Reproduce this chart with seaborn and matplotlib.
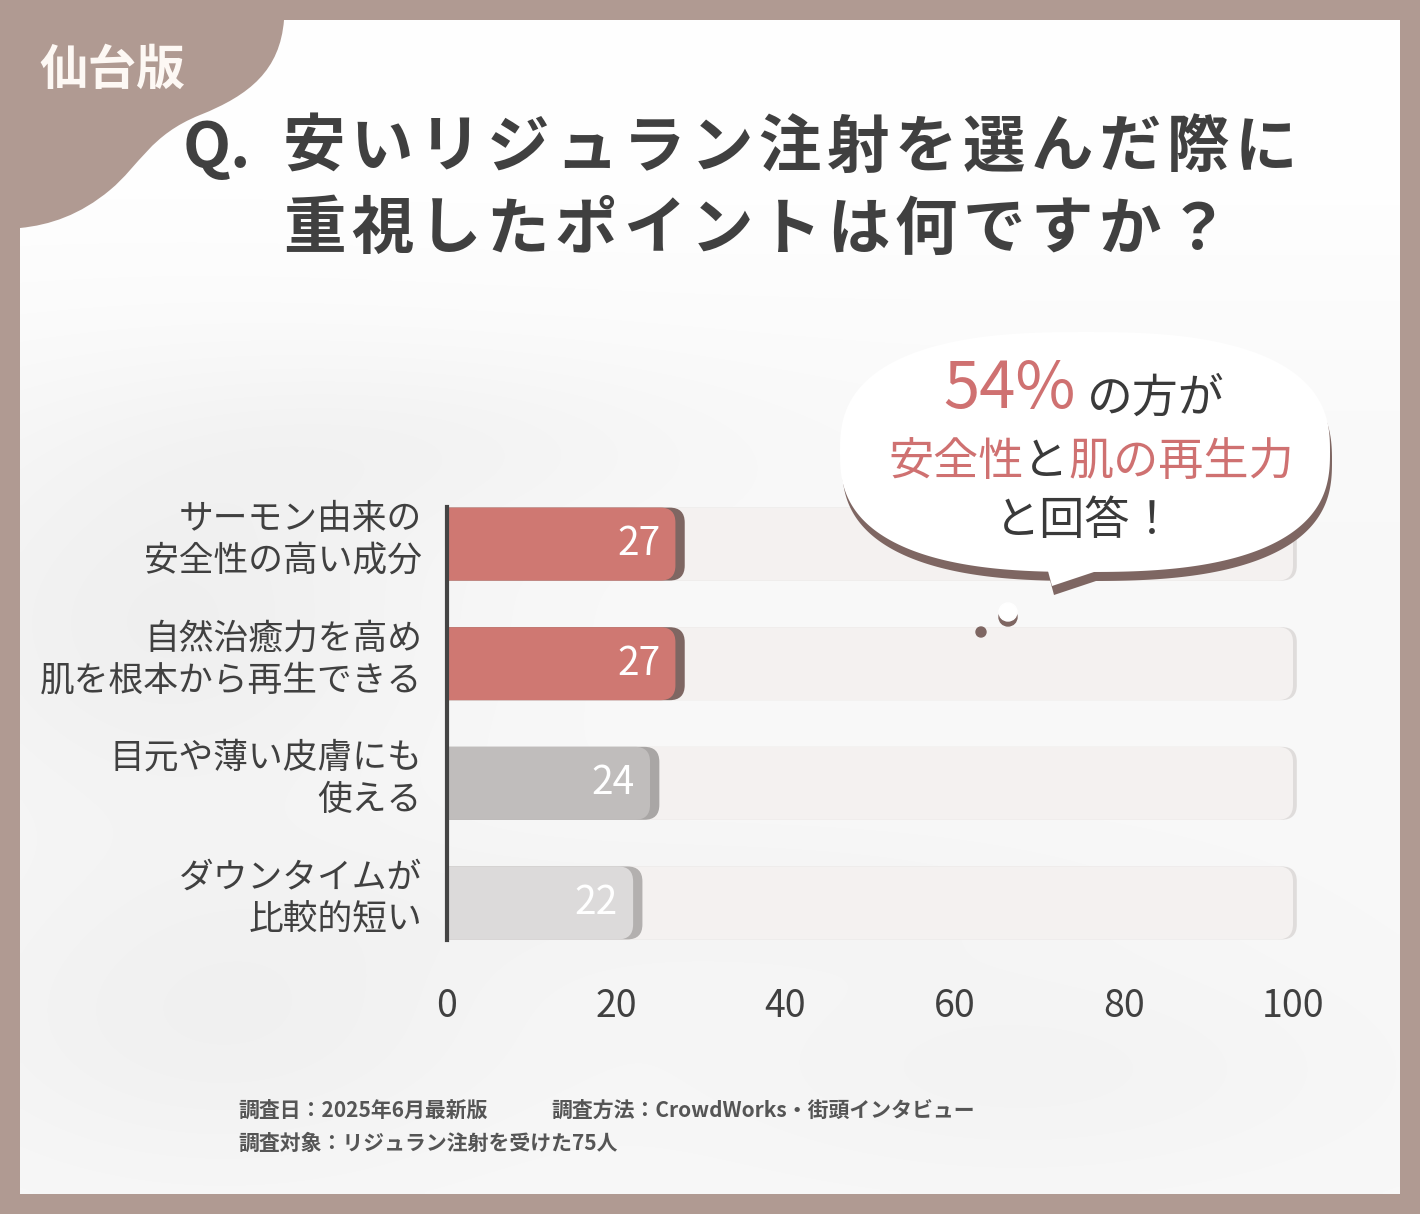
import numpy as np
import pandas as pd
import matplotlib
matplotlib.use("Agg")
import matplotlib.pyplot as plt
import matplotlib.transforms as mtransforms
import seaborn as sns
from matplotlib.patches import FancyBboxPatch, PathPatch, Circle
from matplotlib.path import Path

# Data
labels = ["サーモン由来の\n安全性の高い成分",
          "自然治癒力を高め\n肌を根本から再生できる",
          "目元や薄い皮膚にも\n使える",
          "ダウンタイムが\n比較的短い"]
values = [27, 27, 24, 22]
track_max = [100, 100, 100, 100]
bar_colors = ["#cf7872", "#cf7872", "#c0bdbc", "#dcdada"]
shadow_colors = ["#7e6662", "#7e6662", "#a9a6a5", "#b3b0af"]
x_ticks = [0, 20, 40, 60, 80, 100]

title_q = "Q."
title_lines = ["安いリジュラン注射を選んだ際に", "重視したポイントは何ですか？"]
tab_text = "仙台版"
footer_1a = "調査日：2025年6月最新版"
footer_1b = "調査方法：CrowdWorks・街頭インタビュー"
footer_2 = "調査対象：リジュラン注射を受けた75人"

df = pd.DataFrame({"label": labels, "value": values, "track": track_max})

sns.set_theme(style="white")
plt.rcParams["font.family"] = ["Noto Sans CJK JP", "DejaVu Sans"]

W, H = 1420, 1214
fig = plt.figure(figsize=(W / 100, H / 100), dpi=100)
fig.patch.set_facecolor("#b09a92")

# background / decoration layer in pixel coords (y down)
bg = fig.add_axes([0, 0, 1, 1], zorder=0)
bg.set_xlim(0, W)
bg.set_ylim(H, 0)
bg.axis("off")

# soft panel with faint shadows
yy, xx = np.mgrid[0:1174:4, 0:1380:4]
field = np.ones_like(xx, dtype=float) * 0.975
for cx, cy, sx, sy, amp in [(150, 600, 260, 200, 0.035), (400, 420, 300, 90, 0.02),
                            (200, 1000, 300, 160, 0.03), (1000, 1050, 350, 120, 0.02),
                            (700, 880, 400, 80, 0.015)]:
    field -= amp * np.exp(-(((xx - cx) / sx) ** 2 + ((yy - cy) / sy) ** 2))
field += 0.025 * np.exp(-((yy - 80) / 250) ** 2)
field = np.clip(field, 0, 1)
bg.imshow(np.dstack([field, field, field]), extent=(20, 1400, 1194, 20),
          interpolation="bilinear", zorder=1)

# top-left tab
verts = [(0, 0), (284, 0), (284, 20),
         (280, 70), (250, 95), (200, 115),
         (150, 135), (140, 165), (110, 190),
         (80, 215), (50, 225), (20, 228),
         (0, 228), (0, 0)]
codes = [Path.MOVETO, Path.LINETO, Path.LINETO,
         Path.CURVE4, Path.CURVE4, Path.CURVE4,
         Path.CURVE4, Path.CURVE4, Path.CURVE4,
         Path.CURVE4, Path.CURVE4, Path.CURVE4,
         Path.LINETO, Path.CLOSEPOLY]
bg.add_patch(PathPatch(Path(verts, codes), facecolor="#b09a92", edgecolor="none", zorder=2))
bg.text(112, 70, tab_text, fontsize=35, fontweight="bold", color="#fdf8f4",
        ha="center", va="center", zorder=3)

# title, spaced out character by character
tkw = dict(fontsize=45, fontweight="bold", color="#404040", va="center", zorder=3)
bg.text(183, 148, title_q, ha="left", **tkw)
for row, (line, y) in enumerate(zip(title_lines, [148, 230])):
    for k, ch in enumerate(line):
        bg.text(283 + 31 + 68 * k, y, ch, ha="center", **tkw)

# footer
fkw = dict(fontsize=15, fontweight="bold", color="#555555", ha="left", va="center", zorder=3)
bg.text(238, 1110, footer_1a, **fkw)
bg.text(551, 1110, footer_1b, **fkw)
bg.text(238, 1143, footer_2, **fkw)

# main chart axes
x_max = 101.6
ax_left = 447 / W
ax_w = (x_max * 8.46) / W
ax_top = 507
ax_bot = 940
ax = fig.add_axes([ax_left, 1 - ax_bot / H, ax_w, (ax_bot - ax_top) / H], zorder=1)
ax.patch.set_alpha(0)

bar_h = 0.61
sns.barplot(data=df, x="track", y="label", orient="h", color="#f4f1f0", width=bar_h, ax=ax)
n_track = len(ax.patches)
sns.barplot(data=df, x="value", y="label", orient="h", hue="label", palette=bar_colors,
            width=bar_h, legend=False, ax=ax)
ax.set_xlim(0, x_max)
ax.set_ylim(len(labels) - 1 + 0.31, -0.31)

# rounded bars built from seaborn patches
fig.canvas.draw()
px_x = ax.transData.transform((1, 0))[0] - ax.transData.transform((0, 0))[0]
px_y = abs(ax.transData.transform((0, 1))[1] - ax.transData.transform((0, 0))[1])
r = 15 / px_x
aspect = (15 / px_y) / r

patches = list(ax.patches)
for i, p in enumerate(patches):
    x0, y0, w, h = p.get_x(), p.get_y(), p.get_width(), p.get_height()
    p.set_visible(False)
    if i < n_track:
        face, shade, extra, z = "#f4f1f0", "#dfdcdb", 0.45, 1.5
    else:
        k = i - n_track
        face, shade, extra, z = bar_colors[k], shadow_colors[k], 1.1, 3
    style = f"round,pad=0,rounding_size={r}"
    ax.add_patch(FancyBboxPatch((x0 - r, y0), w + r + extra, h, boxstyle=style,
                                mutation_aspect=aspect, facecolor=shade, edgecolor="none", zorder=z))
    ax.add_patch(FancyBboxPatch((x0 - r, y0), w + r, h, boxstyle=style,
                                mutation_aspect=aspect, facecolor=face, edgecolor="none", zorder=z + 0.1))

for i, v in enumerate(values):
    ax.text(v - 1.8, i, str(v), color="white", fontsize=28, ha="right", va="center", zorder=4)

ax.set_xticks(x_ticks)
ax.set_xticklabels([str(t) for t in x_ticks], fontsize=27, color="#404040")
ax.tick_params(axis="x", length=0, pad=34)
ax.tick_params(axis="y", length=0)
ax.set_yticklabels([])
ylab_tr = mtransforms.blended_transform_factory(ax.transAxes, ax.transData)
ylab_off = mtransforms.ScaledTranslation(-25 / 100, 4 / 100, fig.dpi_scale_trans)
for ypos, lab in zip(ax.get_yticks(), labels):
    ax.text(0, ypos, lab, transform=ylab_tr + ylab_off, ha="right", va="center",
            multialignment="right", fontsize=25, color="#404040", linespacing=1.25)
ax.set_xlabel("")
ax.set_ylabel("")
for s in ["top", "right", "bottom"]:
    ax.spines[s].set_visible(False)
ax.spines["left"].set_color("#444444")
ax.spines["left"].set_linewidth(3)
ax.spines["left"].set_zorder(5)

# speech bubble on top
fg = fig.add_axes([0, 0, 1, 1], zorder=2)
fg.set_xlim(0, W)
fg.set_ylim(H, 0)
fg.axis("off")
fg.patch.set_alpha(0)

t = np.linspace(0, 2 * np.pi, 400)
n = 2.6
cx, cy, a, b = 1085, 452, 245, 120
bx = cx + a * np.sign(np.cos(t)) * np.abs(np.cos(t)) ** (2 / n)
by = cy + b * np.sign(np.sin(t)) * np.abs(np.sin(t)) ** (2 / n)
tail = [(1045, 560), (1052, 586), (1112, 566)]
for dx, dy, col in [(2, 9, "#7e6662"), (0, 0, "#ffffff")]:
    fg.fill(bx + dx, by + dy, color=col, zorder=1 if dx else 2, lw=0)
    fg.fill([p[0] + dx for p in tail], [p[1] + dy for p in tail],
            color=col, zorder=1 if dx else 2, lw=0)
fg.add_patch(Circle((981, 632), 5, color="#7e6662", zorder=1))
fg.add_patch(Circle((1008, 617), 9, color="#7e6662", zorder=1))
fg.add_patch(Circle((1008, 612), 9, color="#ffffff", zorder=2))

red = "#cf7171"
dark = "#3a3a3a"
t1 = fg.text(943, 408, "54%", fontsize=47, color=red, ha="left", va="baseline", zorder=3)
fg.annotate("の方が", xy=(1, 0), xycoords=t1, xytext=(8, 0), textcoords="offset points",
            fontsize=33, color=dark, ha="left", va="bottom", zorder=3)
seg = [("安全性", red), ("と", dark), ("肌の再生力", red)]
prev = fg.text(888, 475, seg[0][0], fontsize=32.5, color=seg[0][1], ha="left", va="baseline", zorder=3)
for s, c in seg[1:]:
    prev = fg.annotate(s, xy=(1, 0), xycoords=prev, fontsize=32.5, color=c,
                       ha="left", va="bottom", zorder=3)
fg.text(1085, 534, "と回答！", fontsize=32.5, color=dark, ha="center", va="baseline", zorder=3)

fig.savefig("out.png", dpi=100, facecolor=fig.get_facecolor())
